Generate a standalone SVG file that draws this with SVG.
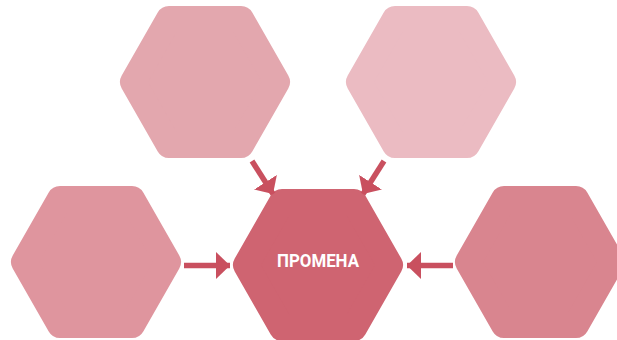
<svg xmlns="http://www.w3.org/2000/svg" width="617" height="340" viewBox="0 0 617 340">
  <defs>
    <style>
      .hex { stroke-width: 26; stroke-linejoin: round; }
      .conn { stroke: #C9505F; stroke-width: 5.5; fill: none; }
      .lbl { font-family: Roboto, "Liberation Sans", sans-serif; font-weight: bold; font-size: 18px; fill: #FFFFFF; }
    </style>
    <polygon id="hexshape" points="-72,0 -36,-63 36,-63 72,0 36,63 -36,63"/>
    <marker id="ah" markerUnits="userSpaceOnUse" markerWidth="15" markerHeight="28" refX="14" refY="13.5" orient="auto">
      <path d="M0,0 L14,13.5 L0,27 Z" fill="#C9505F"/>
    </marker>
  </defs>
  <rect width="617" height="340" fill="#FFFFFF"/>
  <g id="node-top-left">
    <use href="#hexshape" class="hex" transform="translate(205,82)" fill="#E3A7AE" stroke="#E3A7AE"/>
  </g>
  <g id="node-top-right">
    <use href="#hexshape" class="hex" transform="translate(431,82)" fill="#EBBBC2" stroke="#EBBBC2"/>
  </g>
  <g id="node-bottom-left">
    <use href="#hexshape" class="hex" transform="translate(96,262)" fill="#DF959E" stroke="#DF959E"/>
  </g>
  <g id="node-bottom-right">
    <use href="#hexshape" class="hex" transform="translate(540,262)" fill="#D9858F" stroke="#D9858F"/>
  </g>
  <g id="node-center">
    <use href="#hexshape" class="hex" transform="translate(318,265)" fill="#CF6471" stroke="#CF6471"/>
    <text class="lbl" x="318" y="267" text-anchor="middle" textLength="82" lengthAdjust="spacingAndGlyphs">ПРОМЕНА</text>
  </g>
  <g id="connectors">
    <line class="conn" x1="252" y1="161" x2="273" y2="194" marker-end="url(#ah)"/>
    <line class="conn" x1="384" y1="161" x2="363" y2="194" marker-end="url(#ah)"/>
    <line class="conn" x1="184" y1="265.5" x2="230" y2="265.5" marker-end="url(#ah)"/>
    <line class="conn" x1="453" y1="265.5" x2="407" y2="265.5" marker-end="url(#ah)"/>
  </g>
</svg>
